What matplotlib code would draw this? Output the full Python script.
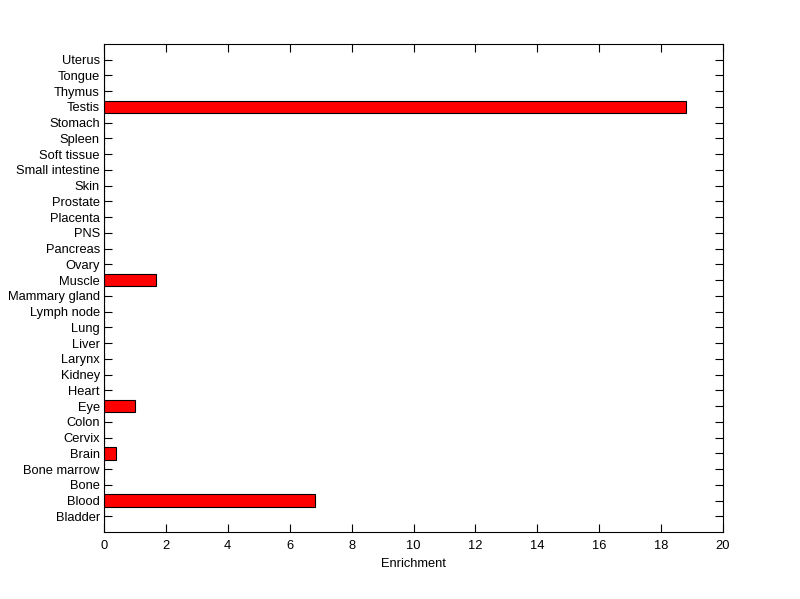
import matplotlib
matplotlib.use("Agg")
import matplotlib.pyplot as plt

tissues = ["Bladder", "Blood", "Bone", "Bone marrow", "Brain", "Cervix", "Colon",
           "Eye", "Heart", "Kidney", "Larynx", "Liver", "Lung", "Lymph node",
           "Mammary gland", "Muscle", "Ovary", "Pancreas", "PNS", "Placenta",
           "Prostate", "Skin", "Small intestine", "Soft tissue", "Spleen",
           "Stomach", "Testis", "Thymus", "Tongue", "Uterus"]
enrichment = [0, 6.83, 0, 0, 0.38, 0, 0,
              1.0, 0, 0, 0, 0, 0, 0,
              0, 1.69, 0, 0, 0, 0,
              0, 0, 0, 0, 0,
              0, 18.79, 0, 0, 0]

plt.rcParams["font.family"] = ["Liberation Sans", "DejaVu Sans"]

fig = plt.figure(figsize=(8, 5.99), dpi=100)
ax = fig.add_axes([104 / 800, 1 - 532 / 599, 619 / 800, 488 / 599])

pos = list(range(1, len(tissues) + 1))
ax.barh(pos, enrichment, height=0.8, color="red", edgecolor="black", linewidth=0.8)
ax.set_axisbelow(True)

ax.set_xlim(0, 20)
ax.set_ylim(0, len(tissues) + 1)
ax.set_xticks(range(0, 21, 2))
ax.set_yticks(pos)
ax.set_yticklabels(tissues)
ax.set_xlabel("Enrichment", fontsize=9.3, labelpad=4)
ax.tick_params(direction="in", length=6, width=0.8, top=True, right=True,
               labelsize=9.3, pad=3)
ax.tick_params(axis="x", pad=6)
for s in ax.spines.values():
    s.set_linewidth(0.8)

fig.savefig("out.png", dpi=100)
